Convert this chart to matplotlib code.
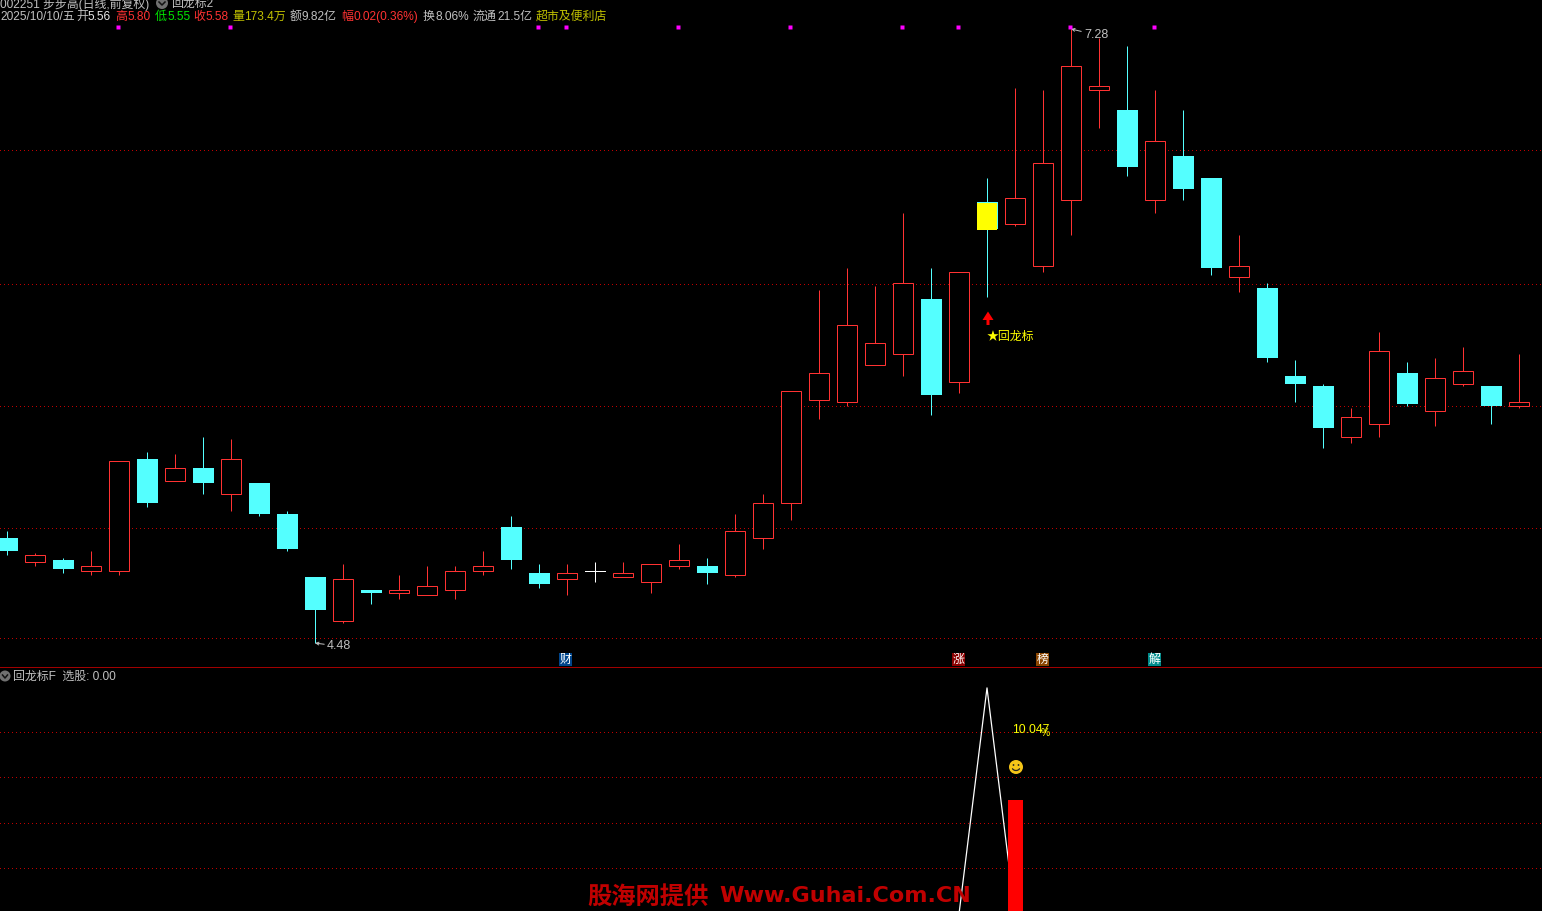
import matplotlib
matplotlib.use("Agg")
import matplotlib.pyplot as plt
from matplotlib.patches import Rectangle, Circle, Arc, Polygon

plt.rcParams['font.family'] = ['Liberation Sans', 'Noto Sans CJK SC', 'DejaVu Sans']

# daily candles
opens = [4.96, 4.85, 4.86, 4.81, 4.81, 5.32, 5.22, 5.28, 5.16, 5.21, 5.07, 4.78, 4.58, 4.72, 4.71,
         4.70, 4.72, 4.81, 5.01, 4.80, 4.77, 4.81, 4.78, 4.76, 4.83, 4.83, 4.79, 4.96, 5.12, 5.59,
         5.58, 5.75, 5.80, 6.05, 5.67, 6.49, 6.39, 6.20, 6.50, 7.00, 6.91, 6.50, 6.70, 6.60, 6.15,
         6.10, 5.70, 5.65, 5.42, 5.48, 5.71, 5.54, 5.66, 5.65, 5.56]
highs = [4.99, 4.89, 4.87, 4.90, 5.31, 5.35, 5.34, 5.42, 5.41, 5.21, 5.08, 4.78, 4.84, 4.72, 4.79,
         4.83, 4.83, 4.90, 5.06, 4.84, 4.84, 4.85, 4.85, 4.84, 4.93, 4.87, 5.07, 5.16, 5.63, 6.09,
         6.19, 6.11, 6.44, 6.19, 6.17, 6.60, 7.01, 7.00, 7.28, 7.24, 7.20, 7.00, 6.91, 6.60, 6.34,
         6.12, 5.77, 5.66, 5.55, 5.90, 5.76, 5.78, 5.83, 5.65, 5.80]
lows = [4.88, 4.83, 4.80, 4.79, 4.79, 5.10, 5.22, 5.16, 5.08, 5.06, 4.90, 4.48, 4.57, 4.66, 4.68,
        4.70, 4.68, 4.79, 4.82, 4.73, 4.70, 4.76, 4.78, 4.71, 4.82, 4.75, 4.78, 4.91, 5.04, 5.50,
        5.56, 5.75, 5.70, 5.52, 5.62, 6.06, 6.38, 6.17, 6.34, 6.83, 6.61, 6.44, 6.50, 6.16, 6.08,
        5.76, 5.58, 5.37, 5.39, 5.42, 5.56, 5.47, 5.65, 5.48, 5.55]
closes = [4.90, 4.88, 4.82, 4.83, 5.31, 5.12, 5.28, 5.21, 5.32, 5.07, 4.91, 4.63, 4.77, 4.71, 4.72,
          4.74, 4.81, 4.83, 4.86, 4.75, 4.80, 4.81, 4.80, 4.84, 4.86, 4.80, 4.99, 5.12, 5.63, 5.71,
          5.93, 5.85, 6.12, 5.61, 6.17, 6.37, 6.51, 6.67, 7.11, 7.02, 6.65, 6.77, 6.55, 6.19, 6.20,
          5.78, 5.66, 5.46, 5.51, 5.81, 5.57, 5.69, 5.72, 5.56, 5.58]

price_grid = [6.724, 6.112, 5.556, 5.00, 4.50]
signal_days = [4, 8, 19, 20, 24, 28, 32, 34, 38, 41]

# lower panel
line_days = [34, 35, 36]
line_vals = [0, 100, 0]
bar_day = 36
bar_val = 50.4
lower_grid = [80, 60, 40, 20]

header = [(0, "2025/10/10/五", "#c0c0c0"), (76, "开", "#c0c0c0"), (88, "5.56", "#e8e8e8"),
          (115, "高", "#ff3232"), (127, "5.80", "#ff3232"), (155, "低", "#00e600"), (167, "5.55", "#00e600"),
          (193, "收", "#ff3232"), (205, "5.58", "#ff3232"), (232, "量", "#c0c000"), (244, "173.4万", "#c0c000"),
          (290, "额", "#c0c0c0"), (302, "9.82亿", "#c0c0c0"), (341, "幅", "#ff3232"),
          (353, "0.02(0.36%)", "#ff3232"), (423, "换", "#c0c0c0"), (435, "8.06%", "#c0c0c0"),
          (473, "流通", "#c0c0c0"), (497, "21.5亿", "#c0c0c0"), (536, "超市及便利店", "#c0c000")]
badges = [(559, "财", "#00458b"), (952, "涨", "#8b0000"), (1036, "榜", "#8b4500"), (1148, "解", "#008b8b")]

CYAN = "#54ffff"
RED = "#ff3232"
GRID = "#c00000"
PX = 0.72
W, H = 1542, 911


def dotted(a, value):
    # one pixel dots, four pixels apart, across the whole panel
    xs = [n * 4 / W for n in range(W // 4 + 1)]
    a.plot(xs, [value] * len(xs), ls="none", marker=",", color=GRID, transform=a.get_yaxis_transform(), zorder=1)


fig = plt.figure(figsize=(W / 100, H / 100), dpi=100, facecolor="black")
ax = fig.add_axes([0, (H - 667) / H, 1, 667 / H])
low_ax = fig.add_axes([0, 0, 1, (H - 668) / H])
ov = fig.add_axes([0, 0, 1, 1])
ov.set_xlim(0, W)
ov.set_ylim(H, 0)

for a in (ax, low_ax, ov):
    a.axis("off")

xlim = ((0 - 7) / 28, (W - 7) / 28)
ax.set_xlim(xlim)
ax.set_ylim(4.371, 7.412)
low_ax.set_xlim(xlim)
low_ax.set_ylim(1.3, 108.8)

for p in price_grid:
    dotted(ax, p)

for i in range(len(opens)):
    o, h, l, c = opens[i], highs[i], lows[i], closes[i]
    if o == c:
        col = "white"
    elif c > o:
        col = RED
    else:
        col = CYAN
    ax.plot([i, i], [l, h], color=col, lw=PX, zorder=2, solid_capstyle="butt")
    if o == c:
        ax.plot([i - 0.36, i + 0.36], [o, o], color=col, lw=PX, zorder=3)
    elif c > o:
        ax.add_patch(Rectangle((i - 0.357, o), 0.714, c - o, fc="black", ec=col, lw=PX, zorder=3))
    else:
        ax.add_patch(Rectangle((i - 0.375, c), 0.75, o - c, fc=col, ec="none", aa=False, zorder=3))

# the picked day sits in yellow on top of its candle
ax.add_patch(Rectangle((35 - 0.34, closes[35] - 0.005), 0.68, opens[35] - closes[35], fc="#ffff00",
                       ec="none", aa=False, zorder=4))

ax.plot([d - 0.04 for d in signal_days], [7.29] * len(signal_days), ls="none", marker="s", ms=2.8, mfc="#ff00ff",
        mec="none", clip_on=False, zorder=5)

# highest and lowest price notes
ax.annotate("7.28", xy=(38, max(highs)), xytext=(13, -6), textcoords="offset pixels", color="#c0c0c0", fontsize=9,
            va="center", ha="left", arrowprops=dict(arrowstyle="->", color="#c0c0c0", lw=PX, shrinkA=0, shrinkB=0, mutation_scale=5))
ax.annotate("4.48", xy=(11, min(lows)), xytext=(12, -3), textcoords="offset pixels", color="#c0c0c0", fontsize=9,
            va="center", ha="left", arrowprops=dict(arrowstyle="->", color="#c0c0c0", lw=PX, shrinkA=0, shrinkB=0, mutation_scale=5))

# signal arrow and label under the picked day
ov.add_patch(Polygon([(988, 311.5), (993.5, 320), (989.5, 320), (989.5, 325), (986.5, 325), (986.5, 320), (982.5, 320)],
                     fc="#ff0000", ec="none"))
ov.text(987, 337, "★回龙标", color="#ffff00", fontsize=8.6, va="center", ha="left")

for p in lower_grid:
    dotted(low_ax, p)
low_ax.plot(line_days, line_vals, color="white", lw=0.9, zorder=2)
low_ax.bar([bar_day + 0.02], [bar_val], width=0.54, color="#ff0000", zorder=3)

ov.plot([0, W], [667, 667], color="#a00000", lw=PX, aa=False)

# header rows, the first one cut by the window edge
ov.text(0, 4, "002251 步步高(日线,前复权)", color="#c0c0c0", fontsize=8.6, va="center", ha="left", clip_on=True)
ov.add_patch(Circle((162, 3), 6, fc="#707070", ec="none"))
ov.plot([159, 162, 165], [2, 5, 2], color="#111111", lw=1.1)
ov.text(171, 4, "回龙标2", color="#c0c0c0", fontsize=8.6, va="center", ha="left", clip_on=True)
for x, s, col in header:
    ov.text(x, 17, s, color=col, fontsize=8.6, va="center", ha="left")

for x, s, col in badges:
    ov.add_patch(Rectangle((x, 653), 13, 13, fc=col, ec="none", aa=False, zorder=3))
    ov.text(x + 6.5, 660, s, color="white", fontsize=8.6, va="center", ha="center", zorder=4)

ov.add_patch(Circle((5, 676), 5.5, fc="#707070", ec="none"))
ov.plot([2.5, 5, 7.5], [675, 678, 675], color="#111111", lw=1.1)
ov.text(13, 677, "回龙标F  选股: 0.00", color="#c0c0c0", fontsize=8.6, va="center", ha="left")

ov.text(1012, 730, "10.047", color="#ffff00", fontsize=8.8, va="center", ha="left")
ov.text(1041, 733, "%", color="#ffff00", fontsize=7.5, va="center", ha="left")

# smiley
ov.add_patch(Circle((1016, 767), 7, fc="#f5c518", ec="none", zorder=3))
ov.add_patch(Circle((1013.5, 765), 0.9, fc="#222222", ec="none", zorder=4))
ov.add_patch(Circle((1018.5, 765), 0.9, fc="#222222", ec="none", zorder=4))
ov.add_patch(Arc((1016, 767), 8, 7, theta1=20, theta2=160, ec="#222222", lw=0.9, zorder=4))

ov.text(587, 898, "股海网提供", color="#c00000", fontsize=17.5, weight="bold",
        family=["Noto Sans CJK SC"], va="center", ha="left", zorder=6)
ov.text(719, 896, "Www.Guhai.Com.CN", color="#c00000", fontsize=16, weight="bold",
        family=["DejaVu Sans"], va="center", ha="left", zorder=6)

fig.savefig("out.png", dpi=100, facecolor="black")
